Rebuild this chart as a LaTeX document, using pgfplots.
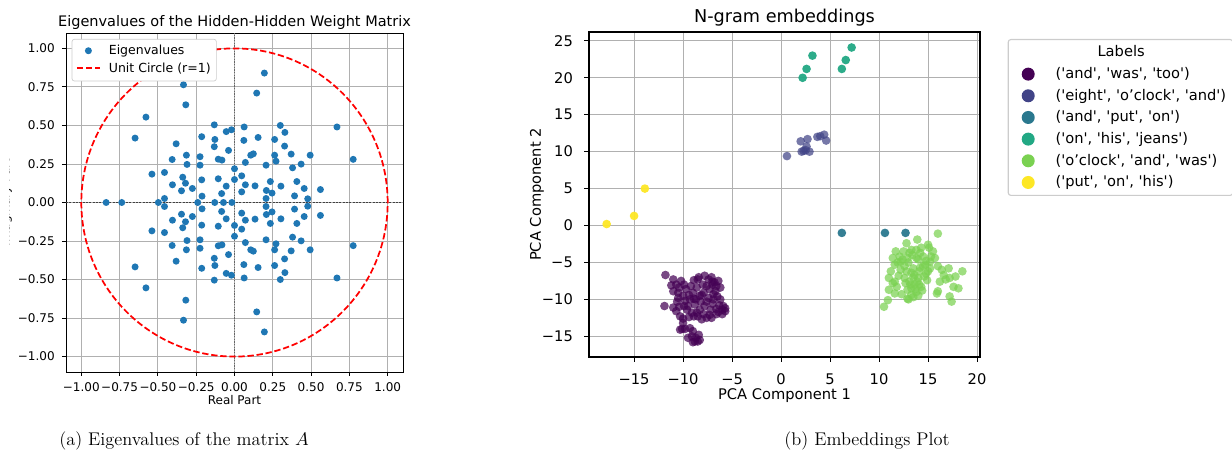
\documentclass[border=0pt]{standalone}
\usepackage{fontspec}
\usepackage{pgfplots}
\pgfplotsset{compat=1.18}
\newfontfamily\mpl{DejaVu Sans}
\definecolor{mplblue}{HTML}{1F77B4}
\definecolor{mplgrid}{HTML}{B0B0B0}
\definecolor{vira}{HTML}{440154}
\definecolor{virb}{HTML}{414487}
\definecolor{virc}{HTML}{2A788E}
\definecolor{vird}{HTML}{22A884}
\definecolor{vire}{HTML}{7AD151}
\definecolor{virf}{HTML}{FDE725}
\newcommand\q{\textquotesingle}
\newcommand\lf{\mpl\fontsize{7.2}{8.2}\selectfont}
\newcommand\legf{\mpl\fontsize{7.5}{8.5}\selectfont}
\newcommand\lt{\mpl\fontsize{8.7}{10}\selectfont}
\newcommand\rf{\mpl\fontsize{8.8}{10}\selectfont}
\newcommand\rt{\mpl\fontsize{10.6}{12}\selectfont}
\newcommand\legdot[1]{\addlegendimage{only marks, mark=*, mark size=3.9pt, mark options={draw opacity=0, fill=#1, fill opacity=1}}}
\newcommand\dash[1]{\rule[2.28pt]{#1}{1.04pt}}
% red dashed sample for the unit circle, set as coloured rules
\pgfplotsset{circleleg/.style={legend image code/.code={
  \node[inner sep=0pt, anchor=west, text=red, text height=5.6pt, text depth=1.5pt] at (0pt,0pt)
    {\hspace*{1.5pt}\dash{3.8pt}\hspace*{1.66pt}\dash{3.8pt}\hspace*{1.66pt}\dash{3.1pt}};}}}

\begin{document}
\begin{tikzpicture}
\useasboundingbox (0,0) rectangle (739.2pt,274.8pt);
\clip (0,0) rectangle (739.2pt,274.8pt);

% left panel: eigenvalues
\begin{axis}[
  at={(39.6pt,51.6pt)}, anchor=south west,
  scale only axis, width=202.2pt, height=203.4pt,
  xmin=-1.1, xmax=1.1, ymin=-1.1, ymax=1.1,
  xtick={-1,-0.75,-0.5,-0.25,0,0.25,0.5,0.75,1},
  ytick={-1,-0.75,-0.5,-0.25,0,0.25,0.5,0.75,1},
  xticklabels={−1.00,−0.75,−0.50,−0.25,0.00,0.25,0.50,0.75,1.00},
  yticklabels={−1.00,−0.75,−0.50,−0.25,0.00,0.25,0.50,0.75,1.00},
  tick pos=left, tick align=outside, major tick length=2.4pt,
  tick style={black, line width=0.55pt},
  axis line style={line width=0.55pt},
  ticklabel style={font=\lf, inner sep=0pt},
  xticklabel style={anchor=base, yshift=-9.6pt},
  yticklabel style={anchor=east, xshift=-4.2pt},
  grid=major, major grid style={mplgrid, line width=0.55pt},
  every axis title shift=0pt,
  title={Eigenvalues of the Hidden-Hidden Weight Matrix},
  title style={font=\lt, anchor=base, at={(axis description cs:0.5,1.0187)}, inner sep=0pt},
  xlabel={Real Part},
  xlabel style={font=\lf, anchor=base, at={(axis description cs:0.5,-0.0973)}, inner sep=0pt},
  legend cell align=left,
  legend style={at={(rel axis cs:0,1)}, anchor=north west, xshift=3.4pt, yshift=-3.6pt,
    fill=white, draw=black!20, rounded corners=1.4pt, inner xsep=1.5pt, inner ysep=3.3pt, row sep=4.2pt,
    nodes={inner sep=0pt, text height=5.6pt, text depth=1.5pt, font=\legf}},
]
\addplot[forget plot, black!75, line width=0.4pt, dash pattern=on 1.2pt off 0.8pt] coordinates {(-1.1,0) (1.1,0)};
\addplot[forget plot, black!60, line width=0.4pt, dash pattern=on 0.8pt off 0.8pt] coordinates {(0,-1.1) (0,1.1)};
\draw[red, line width=1.04pt, dash pattern=on 3.8pt off 1.66pt] (axis cs:0,0) ellipse [x radius=1, y radius=1];
\addplot[forget plot, only marks, mark=*, mark size=2.1pt, mark options={draw opacity=0, fill=mplblue}] coordinates {
(0.195,0.840) (0.145,0.710) (-0.333,0.764) (-0.318,0.634) (-0.578,0.554) (-0.649,0.418)
(0.669,0.490) (0.775,0.280) (0.561,0.084) (0.494,0.307) (0.435,0.249) (0.455,0.091)
(0.478,0.024) (0.392,0.043) (0.407,0.136) (0.379,0.225) (0.370,0.314) (0.327,0.366)
(0.329,0.455) (0.299,0.500) (0.262,0.409) (0.271,0.268) (0.262,0.307) (0.303,0.106)
(0.234,0.136) (0.245,0.061) (0.208,0.078) (0.206,0.026) (0.206,0.242) (0.154,0.422)
(0.123,0.316) (0.106,0.307) (0.134,0.108) (0.071,0.260) (0.071,0.115) (0.061,0.403)
(0.063,0.490) (0.047,0.173) (0.047,0.069) (0.000,0.219) (0.000,0.149) (-0.020,0.472)
(-0.054,0.460) (-0.039,0.338) (-0.054,0.106) (-0.082,0.275) (-0.106,0.281) (-0.106,0.154)
(-0.084,0.058) (-0.132,0.504) (-0.128,0.409) (-0.132,0.362) (-0.214,0.427) (-0.225,0.297)
(-0.225,0.242) (-0.214,0.147) (-0.212,0.041) (-0.314,0.307) (-0.310,0.247) (-0.381,0.381)
(-0.338,0.164) (-0.320,0.125) (-0.275,0.091) (-0.346,0.076) (-0.407,0.279) (-0.405,0.115)
(-0.457,0.195) (-0.539,0.184) (-0.457,0.026)
(0.195,-0.840) (0.145,-0.710) (-0.333,-0.764) (-0.318,-0.634) (-0.578,-0.554) (-0.649,-0.418)
(0.669,-0.490) (0.775,-0.280) (0.561,-0.084) (0.494,-0.307) (0.435,-0.249) (0.455,-0.091)
(0.478,-0.024) (0.392,-0.043) (0.407,-0.136) (0.379,-0.225) (0.370,-0.314) (0.327,-0.366)
(0.329,-0.455) (0.299,-0.500) (0.262,-0.409) (0.271,-0.268) (0.262,-0.307) (0.303,-0.106)
(0.234,-0.136) (0.245,-0.061) (0.208,-0.078) (0.206,-0.026) (0.206,-0.242) (0.154,-0.422)
(0.123,-0.316) (0.106,-0.307) (0.134,-0.108) (0.071,-0.260) (0.071,-0.115) (0.061,-0.403)
(0.063,-0.490) (0.047,-0.173) (0.047,-0.069) (0.000,-0.219) (0.000,-0.149) (-0.020,-0.472)
(-0.054,-0.460) (-0.039,-0.338) (-0.054,-0.106) (-0.082,-0.275) (-0.106,-0.281) (-0.106,-0.154)
(-0.084,-0.058) (-0.132,-0.504) (-0.128,-0.409) (-0.132,-0.362) (-0.214,-0.427) (-0.225,-0.297)
(-0.225,-0.242) (-0.214,-0.147) (-0.212,-0.041) (-0.314,-0.307) (-0.310,-0.247) (-0.381,-0.381)
(-0.338,-0.164) (-0.320,-0.125) (-0.275,-0.091) (-0.346,-0.076) (-0.407,-0.279) (-0.405,-0.115)
(-0.457,-0.195) (-0.539,-0.184) (-0.457,-0.026)
(-0.838,0) (-0.736,0) (-0.497,0) (-0.240,0) (-0.129,0) (-0.072,0) (-0.017,0)
};
\addlegendimage{only marks, mark=*, mark size=2.1pt, mark options={draw opacity=0, fill=mplblue}}
\addlegendentry{\hspace*{5.1pt}Eigenvalues}
\addlegendimage{circleleg}
\addlegendentry{\hspace*{5.1pt}Unit Circle (r=1)\hspace*{1.9pt}}
\end{axis}

% clipped y label of the left panel
\begin{scope}
\clip (5.6pt,0) rectangle (30pt,274.8pt);
\node[rotate=90, anchor=base, font=\lf, inner sep=0pt] at (5.6pt,153.3pt) {Imaginary Part};
\end{scope}

% right panel: n-gram embeddings
\begin{axis}[
  at={(353.4pt,60.6pt)}, anchor=south west,
  scale only axis, width=234.6pt, height=195pt,
  xmin=-19.6, xmax=20.3, ymin=-17.8, ymax=26.2,
  xtick={-15,-10,-5,0,5,10,15,20},
  ytick={-15,-10,-5,0,5,10,15,20,25},
  xticklabels={−15,−10,−5,0,5,10,15,20},
  yticklabels={−15,−10,−5,0,5,10,15,20,25},
  tick pos=left, tick align=outside, major tick length=2.9pt,
  tick style={black, line width=0.66pt},
  axis line style={line width=0.66pt},
  ticklabel style={font=\rf, inner sep=0pt},
  xticklabel style={anchor=base, yshift=-13.8pt},
  yticklabel style={anchor=east, xshift=-6.6pt},
  grid=major, major grid style={mplgrid, line width=0.66pt},
  axis on top,
  every axis title shift=0pt,
  title={N-gram embeddings},
  title style={font=\rt, anchor=base, at={(axis description cs:0.5,1.0287)}, inner sep=0pt},
  xlabel={PCA Component 1},
  xlabel style={font=\rf, anchor=base, at={(axis description cs:0.5,-0.1323)}, inner sep=0pt},
  ylabel={PCA Component 2},
  ylabel style={font=\rf, anchor=base, at={(axis description cs:-0.1228,0.5)}, inner sep=0pt},
  legend cell align=left,
  legend image code/.code={
    \draw[mark repeat=2, mark phase=2, #1] plot coordinates {(0pt,0pt) (8pt,0pt) (16pt,0pt)};
    \path[draw=none, fill=none] (0pt,0pt) -- (24.4pt,0pt);},
  legend style={at={(rel axis cs:1,1)}, anchor=north west, xshift=16.6pt, yshift=-4.2pt,
    fill=white, draw=black!20, rounded corners=1.6pt,
    line width=0.66pt, inner xsep=4pt, inner ysep=3.5pt, row sep=4.5pt,
    nodes={inner sep=0pt, text height=6.9pt, text depth=1.6pt, font=\rf}},
]
\addplot[forget plot, only marks, mark=*, mark size=2.6pt, mark options={draw opacity=0, fill=vira, fill opacity=0.72}] coordinates {
(-11.8,-6.7) (-11.9,-10.9) (-11.0,-11.1) (-10.7,-11.6) (-10.3,-12.3) (-10.3,-14.1)
(-9.3,-13.9) (-9.0,-14.3) (-8.8,-15.7) (-8.3,-15.5) (-8.4,-14.8) (-11.0,-7.3)
(-10.7,-8.0) (-10.2,-7.5) (-11.0,-8.9) (-10.5,-9.1) (-9.7,-8.6) (-10.0,-9.5)
(-9.3,-10.0) (-9.0,-9.1) (-9.5,-10.9) (-8.8,-10.7) (-8.3,-9.5) (-8.4,-7.0)
(-7.8,-6.8) (-7.1,-7.0) (-6.4,-7.5) (-6.2,-8.4) (-6.7,-8.9) (-7.6,-8.2)
(-7.9,-9.1) (-7.4,-9.8) (-6.9,-10.0) (-6.2,-10.0) (-5.9,-10.9) (-5.7,-11.6)
(-6.0,-12.0) (-6.6,-12.0) (-7.1,-12.5) (-7.6,-12.5) (-7.9,-12.0) (-8.3,-11.4)
(-7.8,-10.9) (-7.2,-11.4) (-8.6,-11.8) (-8.1,-12.7) (-9.8,-10.2) (-9.1,-11.8)
(-10.0,-13.2) (-8.1,-9.4) (-7.4,-7.3) (-6.6,-8.2) (-9.0,-15.8) (-8.5,-15.7)
(-10.1,-14.0) (-5.7,-11.2) (-6.8,-7.7) (-8.5,-7.3) (-9.5,-15.2) (-10.6,-10.3)
(-10.4,-8.4) (-9.9,-8.0) (-9.4,-9.4) (-8.9,-9.9) (-8.6,-8.4) (-8.0,-8.0)
(-7.3,-8.6) (-6.9,-9.3) (-7.0,-7.6) (-6.5,-9.6) (-6.3,-10.8) (-6.6,-11.3)
(-7.0,-10.6) (-7.6,-10.3) (-8.2,-10.3) (-8.7,-10.0) (-9.9,-10.9) (-10.4,-11.0)
(-9.6,-11.4) (-9.4,-12.4) (-8.9,-12.3) (-8.5,-12.3) (-7.3,-12.1) (-6.4,-11.7)
(-10.5,-9.8) (-11.2,-8.1) (-9.2,-8.2) (-8.9,-7.4) (-7.0,-8.0) (-6.0,-11.4)
(-10.0,-12.6) (-9.8,-14.0) (-9.1,-15.0) (-8.7,-15.2)
};
\addplot[forget plot, only marks, mark=*, mark size=2.6pt, mark options={draw opacity=0, fill=virb, fill opacity=0.72}] coordinates {
(0.6,9.4) (2.0,11.4) (2.7,11.7) (2.1,10.0) (2.9,10.0) (2.6,10.7)
(3.7,12.0) (4.4,12.3) (4.6,11.5) (4.0,12.1) (2.5,10.2) (2.3,10.1)
};
\addplot[forget plot, only marks, mark=*, mark size=2.6pt, mark options={draw opacity=0, fill=virc, fill opacity=0.95}] coordinates {
(6.2,-1.0) (10.6,-1.0) (12.7,-1.0)
};
\addplot[forget plot, only marks, mark=*, mark size=2.6pt, mark options={draw opacity=0, fill=vird, fill opacity=0.95}] coordinates {
(2.2,20.0) (2.6,21.2) (3.2,23.0) (6.2,21.2) (6.6,22.4) (7.2,24.1)
};
\addplot[forget plot, only marks, mark=*, mark size=2.6pt, mark options={draw opacity=0, fill=vire, fill opacity=0.72}] coordinates {
(16.0,-1.1) (12.8,-2.4) (13.9,-1.9) (13.3,-3.3) (14.3,-3.0) (15.0,-2.6)
(15.5,-3.5) (15.7,-4.4) (15.2,-4.9) (14.5,-4.2) (13.8,-4.4) (12.9,-4.4)
(12.1,-4.2) (11.7,-3.5) (11.4,-4.4) (11.6,-5.3) (11.2,-6.2) (11.0,-7.1)
(11.6,-7.6) (11.4,-7.8) (11.0,-8.7) (11.6,-9.2) (10.9,-10.1) (10.5,-11.0)
(12.2,-6.0) (12.6,-7.1) (13.1,-7.6) (12.9,-8.7) (12.9,-9.9) (13.3,-9.4)
(13.8,-9.0) (13.6,-8.0) (14.0,-7.1) (14.1,-6.2) (13.6,-6.7) (14.5,-5.5)
(14.8,-6.5) (14.7,-5.3) (13.5,-5.8) (12.8,-6.2) (15.2,-5.8) (16.0,-5.5)
(16.6,-6.7) (17.1,-5.8) (16.2,-7.6) (16.0,-8.9) (17.2,-7.1) (17.8,-6.9)
(18.5,-6.2) (17.6,-8.3) (18.1,-8.5) (17.2,-9.6) (17.4,-10.3) (15.9,-9.2)
(14.1,-8.0) (13.3,-8.5) (12.2,-4.9) (13.1,-3.7) (13.8,-3.3) (12.6,-5.5)
(13.5,-7.0) (13.9,-7.6) (14.3,-8.3) (13.7,-8.6) (13.2,-8.0) (14.6,-6.9)
(14.2,-5.7) (13.0,-5.0) (12.4,-4.6) (13.4,-4.0) (14.0,-4.6) (14.8,-4.8)
(15.3,-4.2) (12.5,-3.5) (11.9,-5.0) (12.0,-6.8) (11.8,-8.3) (12.3,-9.3)
(13.0,-10.0) (13.5,-9.7) (14.0,-9.5) (14.4,-8.8) (14.9,-7.4) (15.0,-6.2)
(16.4,-6.0) (16.8,-7.3) (12.7,-7.8) (13.3,-6.4) (14.2,-3.7) (15.1,-3.0)
};
\addplot[forget plot, only marks, mark=*, mark size=2.6pt, mark options={draw opacity=0, fill=virf, fill opacity=0.95}] coordinates {
(-13.9,5.0) (-17.8,0.2) (-15.0,1.3)
};
\addlegendimage{empty legend}
\addlegendentry{\hspace*{25.2pt}Labels}
\legdot{vira}\addlegendentry{(\q and\q, \q was\q, \q too\q)}
\legdot{virb}\addlegendentry{(\q eight\q, \q o’clock\q, \q and\q)}
\legdot{virc}\addlegendentry{(\q and\q, \q put\q, \q on\q)}
\legdot{vird}\addlegendentry{(\q on\q, \q his\q, \q jeans\q)}
\legdot{vire}\addlegendentry{(\q o’clock\q, \q and\q, \q was\q)}
\legdot{virf}\addlegendentry{(\q put\q, \q on\q, \q his\q)}
\end{axis}

% sub-captions
\node[anchor=base, font=\fontsize{11}{13}\selectfont, inner sep=0pt] at (110.4pt,7.2pt) {(a) Eigenvalues of the matrix $A$};
\node[anchor=base, font=\fontsize{11}{13}\selectfont, inner sep=0pt] at (520.2pt,7.2pt) {(b) Embeddings Plot};
\end{tikzpicture}
\end{document}
